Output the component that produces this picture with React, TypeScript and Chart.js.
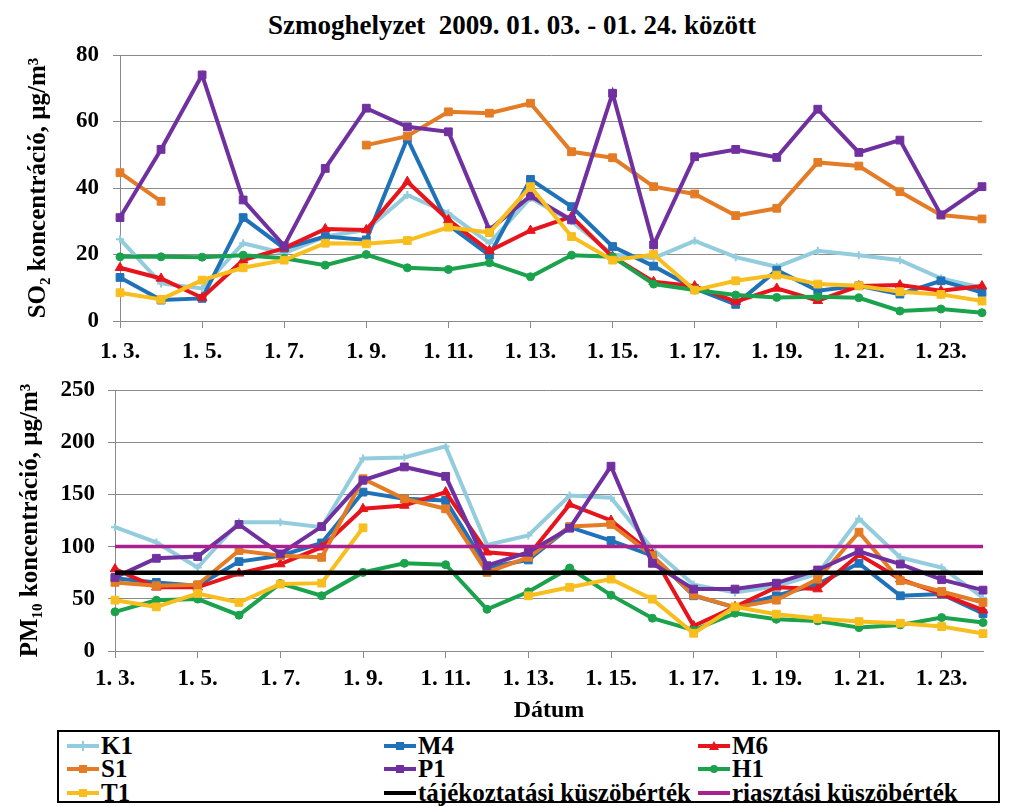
import React, { useEffect, useRef } from 'react';
import { Chart, registerables } from 'chart.js';

Chart.register(...registerables);

// ---------- DATA ----------
const days = ['1. 3.', '1. 4.', '1. 5.', '1. 6.', '1. 7.', '1. 8.', '1. 9.', '1. 10.', '1. 11.', '1. 12.', '1. 13.',
  '1. 14.', '1. 15.', '1. 16.', '1. 17.', '1. 18.', '1. 19.', '1. 20.', '1. 21.', '1. 22.', '1. 23.', '1. 24.'];

const seriesNames = ['K1', 'M4', 'M6', 'S1', 'P1', 'H1', 'T1'];

const so2K1 = [24.6, 11.3, 9.8, 23.4, 20.4, 25.4, 27.4, 37.9, 32.4, 23.4, 37, 30, 20, 18.9, 24.1, 19.2, 16.3, 21.1, 19.8, 18.3, 12.8, 10];
const so2M4 = [13.1, 6.3, 6.8, 31.1, 21.9, 25.4, 24.4, 54.9, 28.9, 19.8, 42.6, 34.4, 22.4, 16.5, 9.8, 5, 15.3, 9.1, 10.6, 8.1, 12.1, 8.6];
const so2M6 = [16, 12.8, 7, 18.3, 21.9, 27.7, 27.4, 41.9, 30.4, 21.1, 27.2, 31.4, 19.3, 11.8, 10.5, 5.8, 9.8, 6.1, 10.5, 10.8, 9.1, 10.5];
const so2S1 = [44.6, 36, null, null, null, null, 52.9, 55.6, 62.9, 62.5, 65.5, 50.9, 49.1, 40.4, 38.2, 31.7, 33.9, 47.7, 46.6, 38.9, 31.9, 30.7];
const so2P1 = [31.1, 51.6, 74, 36.4, 22.6, 45.9, 64, 58.4, 56.9, 27.4, 37.6, 30.4, 68.5, 22.9, 49.4, 51.6, 49.2, 63.7, 50.7, 54.4, 31.9, 40.4];
const so2H1 = [19.3, 19.3, 19.2, 19.8, 18.9, 16.8, 20, 16, 15.5, 17.5, 13.3, 19.8, 19.3, 11.1, 9.3, 7.8, 7.1, 7.3, 7, 3, 3.6, 2.5];
const so2T1 = [8.5, 6.5, 12.3, 16, 18.3, 23.4, 23.2, 24.2, 28.2, 26.6, 40.4, 25.4, 18.3, 20, 9.3, 12.1, 13.8, 11.1, 10.6, 8.8, 8, 6];

const pmK1 = [118.6, 104, 80, 123.4, 123.4, 118.6, 184.3, 185.3, 196, 101.6, 110.6, 149, 146.8, 98, 63.5, 56, 62, 74, 126.6, 89.7, 80, 51];
const pmM4 = [69.6, 65.7, 62.5, 85.6, 91.3, 103.5, 152.2, 145.8, 144.2, 80, 87.2, 118.6, 105.8, 91.3, 52.9, 41.7, 52.9, 64.1, 84, 52.9, 54.5, 35.9];
const pmM6 = [78.5, 61, 61, 74.4, 83.3, 99.4, 136.2, 139.4, 152.2, 94.6, 91.3, 140.4, 125, 93, 24, 42.3, 61, 59.3, 92.3, 68.9, 54.5, 39.1];
const pmS1 = [65.7, 62.5, 63.5, 96.2, 91.3, 89.7, 165, 145.8, 136.2, 75.3, 89.7, 119.2, 121.2, 91.3, 53.5, 41.7, 48.7, 68.9, 113.8, 67.3, 57, 46.5];
const pmP1 = [70.5, 88.8, 90.4, 121.2, 93, 119.2, 163.5, 176.3, 167.3, 81.7, 94.6, 117.6, 177, 84, 59.3, 59.3, 65, 77.6, 95.5, 83.3, 68.3, 58.3];
const pmH1 = [37.5, 48.7, 49.7, 34.3, 64.7, 52.9, 75.3, 84, 82.7, 40, 56.7, 79.5, 53.5, 31.4, 19.9, 36.2, 30.4, 28.8, 22.4, 25, 32, 27.2];
const pmT1 = [48.7, 42.3, 55.1, 46.5, 64.1, 65, 118, null, null, null, 52.9, 61, 68.9, 49.7, 17, 42.3, 35.3, 31.1, 28.2, 26.6, 23.4, 16.7];

const infoThreshold = 75;   // tájékoztatási küszöbérték
const alarmThreshold = 100; // riasztási küszöbérték

const so2Ticks = [0, 20, 40, 60, 80];
const pmTicks = [0, 50, 100, 150, 200, 250];

// ---------- STYLES ----------
const FONT = '"Liberation Serif", "Times New Roman", serif';
const GRID = '#8a8a8a';
const colors = ['#93CDDD', '#1F72B8', '#E8141C', '#E47C26', '#7030A0', '#1AA24C', '#F7BE1E'];
const pointStyles = ['cross', 'rect', 'triangle', 'rect', 'rect', 'circle', 'rect'];
const pointRadii = [4, 5.5, 5.5, 5.5, 5.5, 4, 5.5];
const INFO_COLOR = '#000000';
const ALARM_COLOR = '#A8218E';

function seriesDatasets(values: (number | null)[][]) {
  return values.map((data, i) => ({
    label: seriesNames[i],
    data,
    borderColor: colors[i],
    backgroundColor: colors[i],
    borderWidth: 4,
    pointStyle: pointStyles[i],
    pointRadius: pointRadii[i],
    pointBorderWidth: pointStyles[i] === 'cross' ? 2 : 1,
    pointBorderColor: colors[i],
    pointBackgroundColor: colors[i],
    tension: 0,
    spanGaps: false,
    order: 20 - i,
  }));
}

interface Cfg {
  max: number;
  ticks: number[];
  yTitle: string;
  xTitle: string | null;
  padTop: number;
  padRight: number;
  yWidth: number;
  xHeight: number;
  xPad: number;
  yPad: number;
  yTitlePad: number;
}

function buildOptions(cfg: Cfg): any {
  const tickFont = { family: FONT, size: 23, weight: 'bold' as const };
  return {
    responsive: false,
    maintainAspectRatio: false,
    animation: false,
    events: [],
    layout: { padding: { top: cfg.padTop, right: cfg.padRight, left: 0, bottom: 0 } },
    plugins: { legend: { display: false }, tooltip: { enabled: false }, title: { display: false } },
    scales: {
      x: {
        type: 'category',
        offset: false,
        grid: {
          drawOnChartArea: false,
          drawTicks: true,
          tickLength: 7,
          lineWidth: 1,
          color: (ctx: any) => (ctx.index % 2 === 0 ? GRID : 'rgba(0,0,0,0)'),
        },
        border: { display: true, color: GRID, width: 1 },
        ticks: {
          autoSkip: false,
          maxRotation: 0,
          minRotation: 0,
          padding: cfg.xPad,
          color: '#000',
          font: tickFont,
          callback: (_v: any, i: number) => (i % 2 === 0 ? days[i] : ''),
        },
        title: cfg.xTitle
          ? { display: true, text: cfg.xTitle, color: '#000', font: { family: FONT, size: 24, weight: 'bold' }, padding: { top: 0, bottom: 5 } }
          : { display: false },
        afterFit: (s: any) => {
          s.height = cfg.xHeight;
          s.paddingLeft = 0; s.paddingRight = 0; s.paddingTop = 0; s.paddingBottom = 0;
        },
      },
      y: {
        min: 0,
        max: cfg.max,
        afterBuildTicks: (s: any) => { s.ticks = cfg.ticks.map((v) => ({ value: v })); },
        grid: { color: GRID, lineWidth: 1, drawTicks: true, tickLength: 7 },
        border: { display: true, color: GRID, width: 1 },
        ticks: { padding: cfg.yPad, color: '#000', font: tickFont },
        title: {
          display: true,
          text: cfg.yTitle,
          color: '#000',
          font: { family: FONT, size: 25, weight: 'bold' },
          padding: { top: cfg.yTitlePad, bottom: 0 },
        },
        afterFit: (s: any) => {
          s.width = cfg.yWidth;
          s.paddingLeft = 0; s.paddingRight = 0; s.paddingTop = 0; s.paddingBottom = 0;
        },
      },
    },
  };
}

function LineChart({ datasets, cfg, style }: { datasets: any[]; cfg: Cfg; style: React.CSSProperties }) {
  const ref = useRef<HTMLCanvasElement>(null);
  useEffect(() => {
    if (!ref.current) return;
    const chart = new Chart(ref.current, {
      type: 'line',
      data: { labels: days, datasets },
      options: buildOptions(cfg),
    });
    return () => chart.destroy();
  }, []);
  return (
    <canvas
      ref={ref}
      width={style.width as number}
      height={style.height as number}
      style={{ position: 'absolute', display: 'block', ...style }}
    />
  );
}

function Marker({ i }: { i: number | 'info' | 'alarm' }) {
  const color = i === 'info' ? INFO_COLOR : i === 'alarm' ? ALARM_COLOR : colors[i];
  let shape: React.ReactNode = null;
  if (typeof i === 'number') {
    const st = pointStyles[i];
    if (st === 'rect') shape = <rect x={12} y={6} width={8} height={8} fill={color} />;
    else if (st === 'triangle') shape = <polygon points="16,5 21,14 11,14" fill={color} />;
    else if (st === 'circle') shape = <circle cx={16} cy={10} r={4} fill={color} />;
    else shape = <g stroke={color} strokeWidth={2}><line x1={16} y1={5} x2={16} y2={15} /><line x1={11} y1={10} x2={21} y2={10} /></g>;
  }
  return (
    <svg width={32} height={20} style={{ display: 'inline-block', verticalAlign: 'middle', marginRight: 2 }}>
      <line x1={0} y1={10} x2={32} y2={10} stroke={color} strokeWidth={4} />
      {shape}
    </svg>
  );
}

const legendItems: { key: number | 'info' | 'alarm'; text: string }[] = [
  { key: 0, text: seriesNames[0] },
  { key: 1, text: seriesNames[1] },
  { key: 2, text: seriesNames[2] },
  { key: 3, text: seriesNames[3] },
  { key: 4, text: seriesNames[4] },
  { key: 5, text: seriesNames[5] },
  { key: 6, text: seriesNames[6] },
  { key: 'info', text: 'tájékoztatási küszöbérték' },
  { key: 'alarm', text: 'riasztási küszöbérték' },
];

export default function App() {
  const so2Sets = seriesDatasets([so2K1, so2M4, so2M6, so2S1, so2P1, so2H1, so2T1]);
  const pmSets = [
    ...seriesDatasets([pmK1, pmM4, pmM6, pmS1, pmP1, pmH1, pmT1]),
    {
      label: 'tájékoztatási küszöbérték',
      data: days.map(() => infoThreshold),
      borderColor: INFO_COLOR,
      backgroundColor: INFO_COLOR,
      borderWidth: 4.5,
      pointRadius: 0,
      order: 2,
    },
    {
      label: 'riasztási küszöbérték',
      data: days.map(() => alarmThreshold),
      borderColor: ALARM_COLOR,
      backgroundColor: ALARM_COLOR,
      borderWidth: 3.5,
      pointRadius: 0,
      order: 1,
    },
  ];

  const topCfg: Cfg = {
    max: 80, ticks: so2Ticks, yTitle: 'SO₂ koncentráció, µg/m³', xTitle: null,
    padTop: 15, padRight: 42, yWidth: 120, xHeight: 49, xPad: 10, yPad: 14, yTitlePad: 24,
  };
  const botCfg: Cfg = {
    max: 250, ticks: pmTicks, yTitle: 'PM₁₀ koncentráció, µg/m³', xTitle: 'Dátum',
    padTop: 20, padRight: 41, yWidth: 115, xHeight: 79, xPad: 7, yPad: 13, yTitlePad: 16,
  };

  const colX = [8, 325, 639];
  const rowY = [3, 26, 50];

  return (
    <div style={{ position: 'absolute', left: 0, top: 0, width: 1024, height: 806, background: '#fff', overflow: 'hidden' }}>
      <div style={{ position: 'absolute', left: 0, top: 10, width: 1024, textAlign: 'center', fontFamily: FONT, fontWeight: 'bold', fontSize: 27, lineHeight: '30px', color: '#000', whiteSpace: 'pre' }}>
        {'Szmoghelyzet  2009. 01. 03. - 01. 24. között'}
      </div>
      <LineChart datasets={so2Sets} cfg={topCfg} style={{ left: 0, top: 40, width: 1024, height: 330 }} />
      <LineChart datasets={pmSets} cfg={botCfg} style={{ left: 0, top: 370, width: 1024, height: 360 }} />
      <div style={{ position: 'absolute', left: 57, top: 730, width: 943, height: 73, border: '2px solid #000', boxSizing: 'border-box', background: '#fff' }}>
        {legendItems.map((it, idx) => (
          <div key={idx} style={{ position: 'absolute', left: colX[idx % 3], top: rowY[Math.floor(idx / 3)], height: 22, display: 'flex', alignItems: 'center', whiteSpace: 'nowrap', fontFamily: FONT, fontWeight: 'bold', fontSize: 25, lineHeight: '22px', color: '#000' }}>
            <Marker i={it.key} />
            <span>{it.text}</span>
          </div>
        ))}
      </div>
    </div>
  );
}
